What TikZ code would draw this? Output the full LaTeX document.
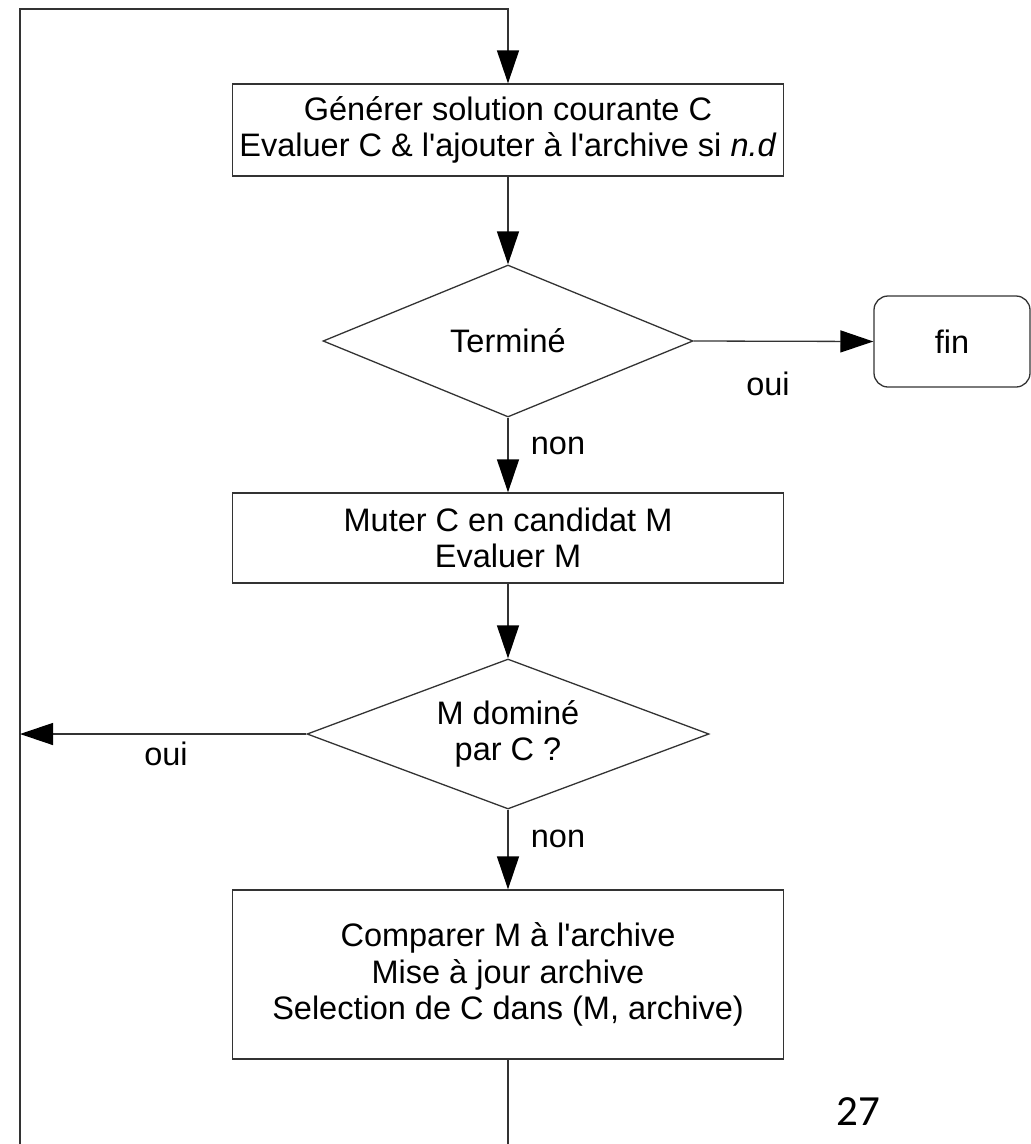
\documentclass[tikz,border=0pt]{standalone}
\usepackage{fontspec}
\setmainfont{Liberation Sans}
\newfontfamily\pagenumfont{Carlito}
\usetikzlibrary{arrows.meta,shapes.geometric}
\newcommand{\apos}{\textquotesingle}
\begin{document}
\begin{tikzpicture}[x=1pt,y=-1pt,
  every node/.style={font=\fontsize{32.5}{36.5}\selectfont},
  flowline/.style={draw=black!80,line width=1.3pt},
  arrowline/.style={flowline,-{Triangle[length=33pt,width=22pt,color=black]}},
  procbox/.style={draw=black!80,line width=1.3pt,rectangle,minimum width=551pt,align=center,inner sep=0pt},
  decision/.style={draw=black!80,line width=1.3pt,diamond,aspect=2.5,inner sep=0pt,align=center},
  endbox/.style={draw=black!80,line width=1.3pt,rectangle,rounded corners=14pt},
  lbl/.style={anchor=base}]
\useasboundingbox (0,0) rectangle (1031,1144);

% flowchart blocks
\node[procbox,minimum height=92pt] (gen) at (508,130)
  {Générer solution courante C\\Evaluer C \& l\apos ajouter à l\apos archive si \textit{n.d}};
\node[decision,minimum width=370pt,minimum height=152pt] (done) at (508,341) {Terminé};
\node[endbox,minimum width=156pt,minimum height=91pt] (fin) at (952,341.5) {fin};
\node[procbox,minimum height=90pt] (mut) at (508,538) {Muter C en candidat M\\Evaluer M};
\node[decision,minimum width=402pt,minimum height=150pt] (dom) at (508,734) {M dominé\\par C ?};
\node[procbox,minimum height=169pt] (cmp) at (508,974.5)
  {Comparer M à l\apos archive\\Mise à jour archive\\Selection de C dans (M, archive)};

% branch labels
\node[lbl] (oui1) at (768,395) {oui};
\node[lbl] (non1) at (558,454) {non};
\node[lbl] (oui2) at (166,765) {oui};
\node[lbl] (non2) at (558,847) {non};

% page number
\node[anchor=base,font=\pagenumfont\fontsize{43}{48}\selectfont] (pg) at (858,1125) {27};

% loop-back route
\coordinate (topleft) at (20,9);
\coordinate (topright) at (508,9);
\coordinate (botleft) at (20,1144);
\coordinate (botmid) at (508,1144);
\coordinate (back) at (20,734);

% connectors
\draw[arrowline] (botleft) -- (topleft) -- (topright) -- (gen.north);
\draw[arrowline] (gen.south) -- (done.north);
\draw[arrowline] (done.east) -- (fin.west);
\draw[arrowline] (done.south) -- (mut.north);
\draw[arrowline] (mut.south) -- (dom.north);
\draw[arrowline] (dom.west) -- (back);
\draw[arrowline] (dom.south) -- (cmp.north);
\draw[flowline] (cmp.south) -- (botmid);
\end{tikzpicture}
\end{document}
